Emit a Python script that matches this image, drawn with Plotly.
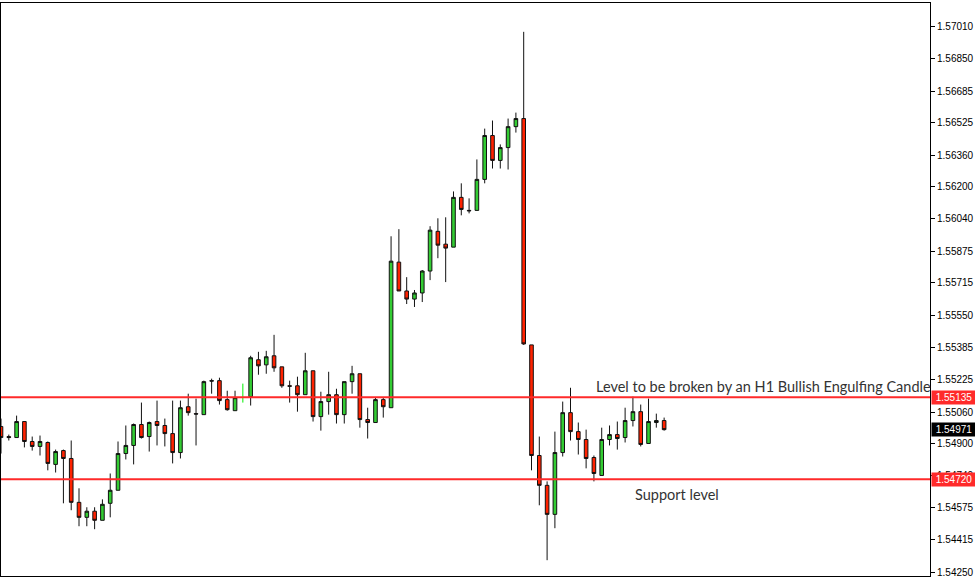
import plotly.graph_objects as go

# ---- data ----
candle_index = list(range(86))
opens = [1.54987, 1.54936, 1.54931, 1.55012, 1.54911, 1.54886, 1.54906, 1.54795, 1.54865, 1.54825,
         1.54603, 1.54527, 1.54558, 1.54512, 1.54598, 1.54664, 1.54850, 1.54891, 1.54997, 1.54936,
         1.55012, 1.54992, 1.54951, 1.54855, 1.55087, 1.55052, 1.55047, 1.55219, 1.55219, 1.55123,
         1.55067, 1.55140, 1.55138, 1.55325, 1.55299, 1.55345, 1.55289, 1.55193, 1.55193, 1.55148,
         1.55269, 1.55037, 1.55113, 1.55148, 1.55047, 1.55214, 1.55254, 1.55022, 1.55007, 1.55123,
         1.55082, 1.55819, 1.55673, 1.55632, 1.55663, 1.55774, 1.55975, 1.55910, 1.55895, 1.56147,
         1.56081, 1.56081, 1.56238, 1.56460, 1.56334, 1.56399, 1.56505, 1.56546, 1.55400, 1.54840,
         1.54689, 1.54542, 1.54855, 1.55057, 1.54961, 1.54921, 1.54830, 1.54739, 1.54921, 1.54946,
         1.54931, 1.55017, 1.55062, 1.54901, 1.55007, 1.55017]
highs = [1.55027, 1.54946, 1.55042, 1.55012, 1.54936, 1.54941, 1.54911, 1.54870, 1.54870, 1.54916,
         1.54674, 1.54578, 1.54578, 1.54618, 1.54749, 1.54911, 1.54992, 1.55002, 1.55108, 1.55012,
         1.55118, 1.55027, 1.55118, 1.55118, 1.55153, 1.55128, 1.55219, 1.55229, 1.55234, 1.55168,
         1.55168, 1.55204, 1.55345, 1.55365, 1.55370, 1.55451, 1.55289, 1.55219, 1.55239, 1.55360,
         1.55269, 1.55163, 1.55264, 1.55178, 1.55214, 1.55294, 1.55254, 1.55082, 1.55133, 1.55133,
         1.55950, 1.55986, 1.55743, 1.55678, 1.55779, 1.56001, 1.56041, 1.56046, 1.56177, 1.56218,
         1.56142, 1.56339, 1.56495, 1.56536, 1.56415, 1.56546, 1.56576, 1.56985, 1.55400, 1.54936,
         1.54709, 1.54961, 1.55113, 1.55183, 1.55007, 1.54971, 1.54840, 1.54981, 1.54992, 1.55012,
         1.55082, 1.55138, 1.55098, 1.55128, 1.55052, 1.55032]
lows = [1.54850, 1.54916, 1.54931, 1.54881, 1.54865, 1.54840, 1.54765, 1.54754, 1.54598, 1.54563,
        1.54482, 1.54482, 1.54467, 1.54512, 1.54527, 1.54664, 1.54820, 1.54795, 1.54926, 1.54860,
        1.54891, 1.54886, 1.54800, 1.54825, 1.55042, 1.54891, 1.55047, 1.55153, 1.55098, 1.55067,
        1.55067, 1.55108, 1.55093, 1.55249, 1.55254, 1.55264, 1.55183, 1.55108, 1.55062, 1.55148,
        1.55012, 1.54966, 1.55047, 1.55002, 1.55002, 1.55153, 1.54981, 1.54926, 1.55007, 1.55032,
        1.55082, 1.55673, 1.55607, 1.55592, 1.55617, 1.55728, 1.55839, 1.55718, 1.55895, 1.56056,
        1.56066, 1.56081, 1.56218, 1.56293, 1.56293, 1.56288, 1.56475, 1.55400, 1.54765, 1.54588,
        1.54310, 1.54472, 1.54835, 1.54916, 1.54845, 1.54775, 1.54709, 1.54739, 1.54891, 1.54870,
        1.54906, 1.54987, 1.54886, 1.54901, 1.54981, 1.54966]
closes = [1.54931, 1.54931, 1.55012, 1.54911, 1.54886, 1.54911, 1.54800, 1.54860, 1.54825, 1.54603,
          1.54527, 1.54558, 1.54512, 1.54593, 1.54664, 1.54850, 1.54891, 1.54997, 1.54931, 1.55007,
          1.54992, 1.54951, 1.54855, 1.55082, 1.55057, 1.55050, 1.55214, 1.55217, 1.55118, 1.55072,
          1.55133, 1.55140, 1.55335, 1.55294, 1.55340, 1.55284, 1.55193, 1.55191, 1.55148, 1.55269,
          1.55037, 1.55113, 1.55148, 1.55047, 1.55214, 1.55254, 1.55022, 1.55007, 1.55123, 1.55087,
          1.55824, 1.55673, 1.55632, 1.55663, 1.55774, 1.55981, 1.55905, 1.55890, 1.56147, 1.56086,
          1.56079, 1.56238, 1.56460, 1.56334, 1.56399, 1.56505, 1.56546, 1.55405, 1.54840, 1.54689,
          1.54542, 1.54855, 1.55057, 1.54961, 1.54921, 1.54825, 1.54749, 1.54921, 1.54946, 1.54926,
          1.55017, 1.55062, 1.54896, 1.55012, 1.55017, 1.54971]
odd_candle = 31  # drawn as a thin lime line in the reference

tick_values = [1.57010, 1.56850, 1.56685, 1.56525, 1.56360, 1.56200, 1.56040, 1.55875, 1.55715,
               1.55550, 1.55385, 1.55225, 1.55060, 1.54900, 1.54740, 1.54575, 1.54415, 1.54250]
tick_labels = ["%.5f" % v for v in tick_values]

resistance_level = 1.55135
support_level = 1.54720
last_price = 1.54971
resistance_text = "Level to be broken by an H1 Bullish Engulfing Candle"
support_text = "Support level"

GREEN = "#33cc33"
RED = "#ff2200"
LINE_RED = "#ff2a2a"

main = [i for i in candle_index if i != odd_candle]

fig = go.Figure()
fig.add_trace(go.Candlestick(
    x=main,
    open=[opens[i] for i in main], high=[highs[i] for i in main],
    low=[lows[i] for i in main], close=[closes[i] for i in main],
    increasing=dict(fillcolor=GREEN, line=dict(color="#111111", width=1)),
    decreasing=dict(fillcolor=RED, line=dict(color="#111111", width=1)),
    whiskerwidth=0, showlegend=False, hoverinfo="skip",
))
fig.add_trace(go.Scatter(
    x=[odd_candle, odd_candle], y=[lows[odd_candle], highs[odd_candle]],
    mode="lines", line=dict(color="#00ee00", width=1), showlegend=False, hoverinfo="skip",
))

for lvl in (resistance_level, support_level):
    fig.add_hline(y=lvl, line=dict(color=LINE_RED, width=2))

annotations = []
for lvl, bg in ((resistance_level, "#ff2a2a"), (support_level, "#ff2a2a"), (last_price, "#000000")):
    annotations.append(dict(
        xref="paper", x=1, xanchor="left", xshift=1, yref="y", y=lvl, yanchor="middle",
        text="%.5f" % lvl, showarrow=False, bgcolor=bg, borderpad=1,
        font=dict(family="Liberation Sans", size=10, color="white"), width=42, align="center",
    ))
annotations.append(dict(
    xref="x", x=75.95, xanchor="left", yref="y", y=1.55188, yanchor="middle",
    text=resistance_text, showarrow=False,
    font=dict(family="Lato", size=14.5, color="#333333"),
))
annotations.append(dict(
    xref="x", x=80.95, xanchor="left", yref="y", y=1.54644, yanchor="middle",
    text=support_text, showarrow=False,
    font=dict(family="Lato", size=14.5, color="#333333"),
))

fig.update_layout(
    width=975, height=578,
    margin=dict(l=0, r=45, t=3, b=0),
    paper_bgcolor="white", plot_bgcolor="white",
    boxgap=0.34,
    annotations=annotations,
    xaxis=dict(range=[0, 119.08], showgrid=False, zeroline=False, showticklabels=False,
               showline=True, linecolor="#000000", linewidth=1, mirror=True,
               rangeslider=dict(visible=False), fixedrange=True),
    yaxis=dict(range=[1.54230, 1.57131], side="right", showgrid=False, zeroline=False,
               tickmode="array", tickvals=tick_values, ticktext=tick_labels,
               ticks="outside", ticklen=4, tickcolor="#000000", ticklabeloverflow="allow",
               tickfont=dict(family="Liberation Sans", size=10, color="#000000"),
               showline=True, linecolor="#000000", linewidth=1, mirror=True),
)

fig.write_html("out.html", config={"displayModeBar": False},
               post_script="document.body.style.margin='0';")
